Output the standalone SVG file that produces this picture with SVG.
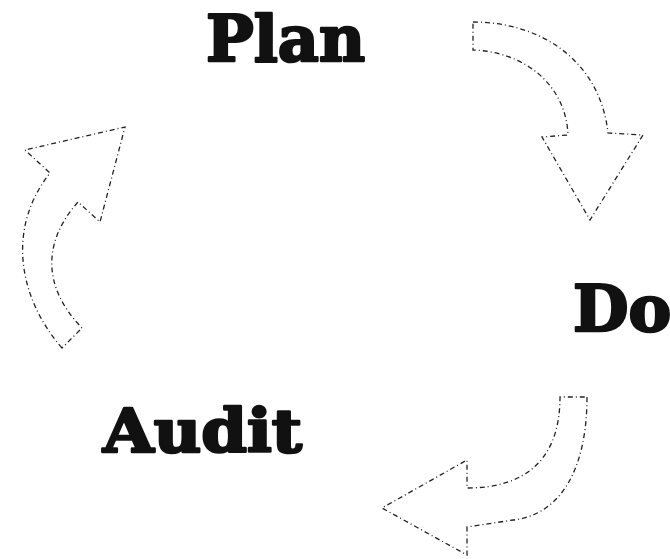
<svg xmlns="http://www.w3.org/2000/svg" width="670" height="559" viewBox="0 0 670 559">
<style>
.lbl{font-family:"DejaVu Serif","Liberation Serif",serif;font-weight:bold;fill:#111;stroke:#111;stroke-width:2.6;stroke-linejoin:round}
.arr{fill:#fff;stroke:#222;stroke-width:1.3;stroke-dasharray:5 3 1 3;stroke-linejoin:miter}
</style>
<rect width="670" height="559" fill="#fff"/>
<g id="connectors">
<path id="arrow-plan-do" class="arr" d="M473,22 C540,22 600,60 608,133 L643,135 L590,220 L542,137 L568,135 C566,85 525,52 473,50 Z"/>
<path id="arrow-do-audit" class="arr" d="M587,397 C587,470 560,515 513,520 L467,527 L467,555 L382,508 L467,460 L467,488 C525,488 560,460 560,397 Z"/>
<path id="arrow-audit-plan" class="arr" d="M62,348 C20,300 5,230 50,173 L25,150 L125,127 L100,222 L78,202 C40,245 45,290 82,328 Z"/>
</g>
<g id="node-plan"><text class="lbl" x="206" y="61" font-size="64" textLength="159" lengthAdjust="spacingAndGlyphs">Plan</text></g>
<g id="node-do"><text class="lbl" x="573" y="331" font-size="64">Do</text></g>
<g id="node-audit"><text class="lbl" x="103" y="452" font-size="59" textLength="199" lengthAdjust="spacingAndGlyphs">Audit</text></g>
</svg>
